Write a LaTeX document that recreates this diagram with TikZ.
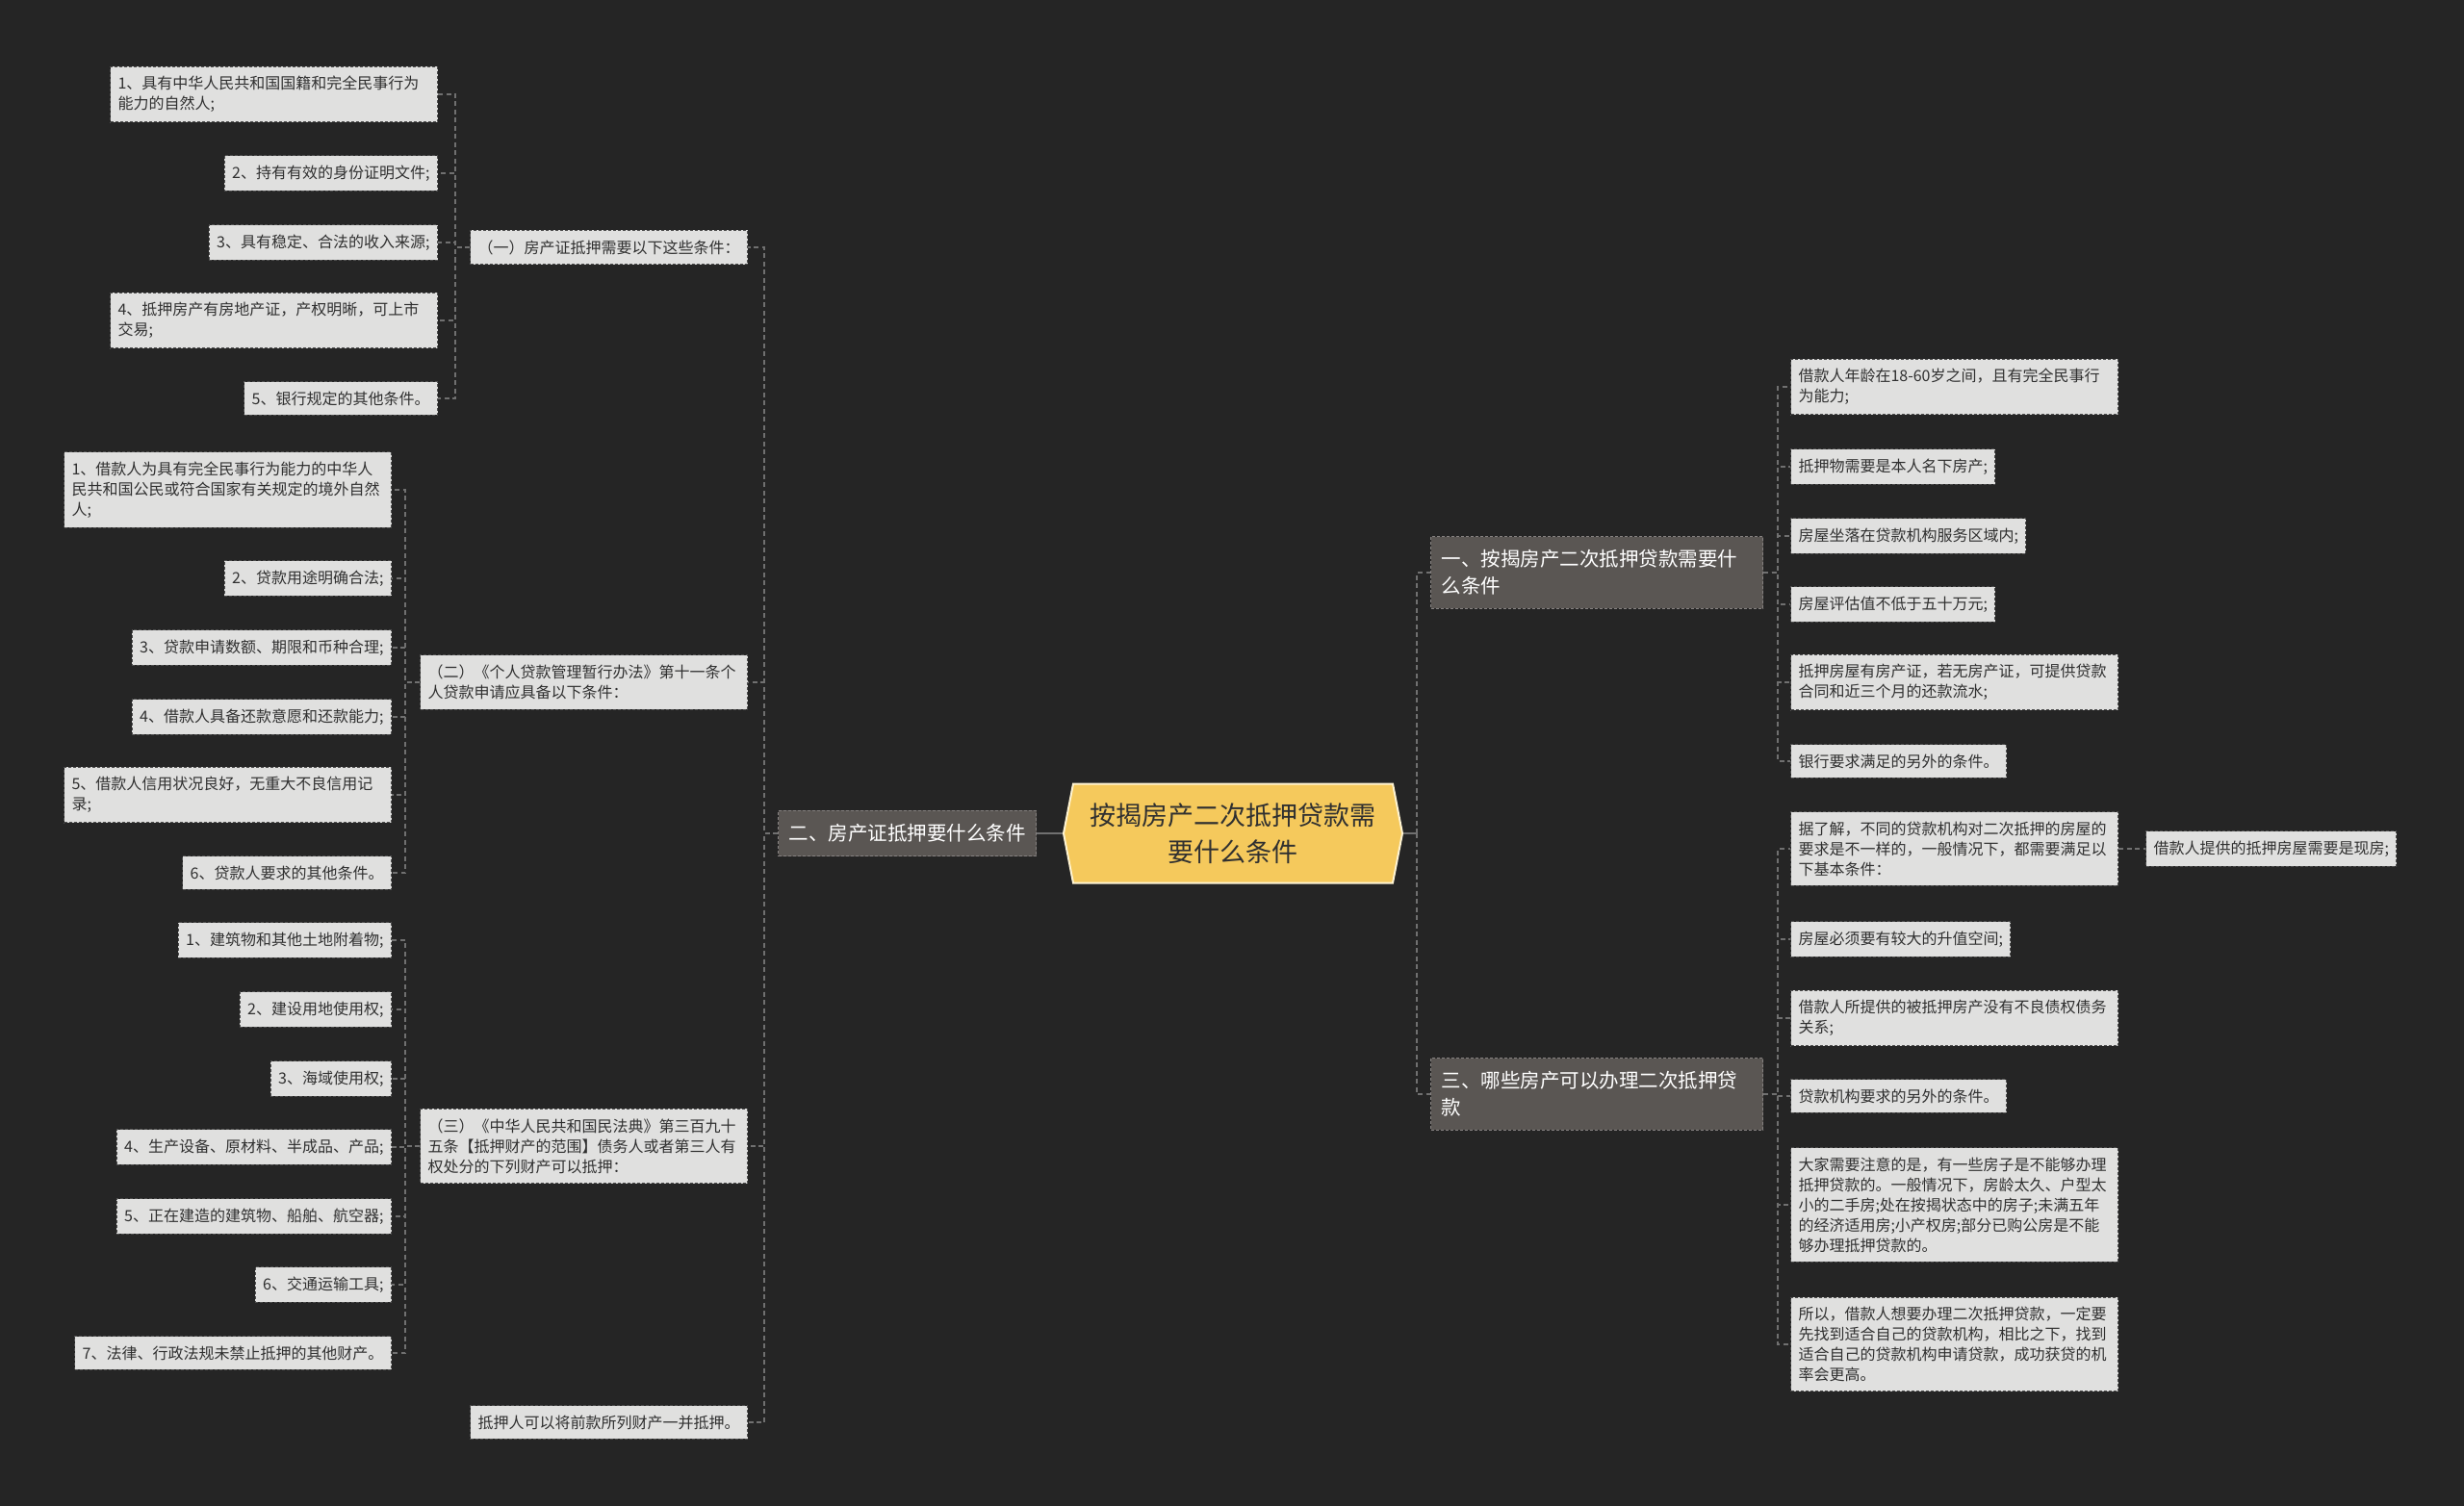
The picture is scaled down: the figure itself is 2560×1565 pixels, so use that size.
\documentclass[tikz,border=0pt]{standalone}
\usepackage{fontspec}
\setmainfont{Noto Sans CJK SC}
\usetikzlibrary{shapes.symbols}

\definecolor{bgcol}{HTML}{252525}
\definecolor{leaffill}{HTML}{E0E0DF}
\definecolor{leafline}{HTML}{4E4E4E}
\definecolor{leaftext}{HTML}{303030}
\definecolor{midfill}{HTML}{5A5653}
\definecolor{midline}{HTML}{858180}
\definecolor{rootfill}{HTML}{F5C95C}
\definecolor{rootline}{HTML}{FFF4D2}
\definecolor{linkcol}{HTML}{707070}

\tikzset{
  leaf/.style={draw=leafline, fill=leaffill, text=leaftext, line width=1pt,
    dash pattern=on 3pt off 2pt, inner xsep=8pt, inner ysep=10pt, align=left,
    font=\fontsize{16}{21}\selectfont},
  wide/.style={text width=324pt},
  branch/.style={draw=midline, fill=midfill, text=white, line width=1pt,
    dash pattern=on 3pt off 2pt, inner xsep=11pt, inner ysep=14pt, align=left,
    font=\fontsize{20.5}{28}\selectfont},
  link/.style={draw=linkcol, line width=1.6pt, dash pattern=on 5pt off 3.5pt},
  trunk/.style={draw=linkcol, line width=2.5pt},
}

\begin{document}
\begin{tikzpicture}[x=1pt,y=-1pt]
\fill[bgcol] (0,0) rectangle (2560,1565);
\useasboundingbox (0,0) rectangle (2560,1565);

% root
\node[shape=signal, signal to=east and west, signal pointer angle=158,
  minimum width=352pt, minimum height=103pt, fill=rootfill, draw=rootline,
  line width=2pt, align=center, text=leaftext,
  font=\fontsize{27}{38}\selectfont] (root) at (1281,866)
  {按揭房产二次抵押贷款需\\要什么条件};

% left branch
\node[branch, anchor=east] (L) at (1077,866) {二、房产证抵押要什么条件};

\node[leaf, anchor=east] (a) at (777,257) {（一）房产证抵押需要以下这些条件：};
\node[leaf, wide, anchor=east] (b) at (777,709) {（二）《个人贷款管理暂行办法》第十一条个\\人贷款申请应具备以下条件：};
\node[leaf, wide, anchor=east] (c) at (777,1191) {（三）《中华人民共和国民法典》第三百九十\\五条【抵押财产的范围】债务人或者第三人有\\权处分的下列财产可以抵押：};
\node[leaf, anchor=east] (d) at (777,1478) {抵押人可以将前款所列财产一并抵押。};

\node[leaf, wide, anchor=east] (a1) at (455,98) {1、具有中华人民共和国国籍和完全民事行为\\能力的自然人;};
\node[leaf, anchor=east] (a2) at (455,180) {2、持有有效的身份证明文件;};
\node[leaf, anchor=east] (a3) at (455,252) {3、具有稳定、合法的收入来源;};
\node[leaf, wide, anchor=east] (a4) at (455,333) {4、抵押房产有房地产证，产权明晰，可上市\\交易;};
\node[leaf, anchor=east] (a5) at (455,414) {5、银行规定的其他条件。};

\node[leaf, wide, anchor=east] (b1) at (407,509) {1、借款人为具有完全民事行为能力的中华人\\民共和国公民或符合国家有关规定的境外自然\\人;};
\node[leaf, anchor=east] (b2) at (407,601) {2、贷款用途明确合法;};
\node[leaf, anchor=east] (b3) at (407,673) {3、贷款申请数额、期限和币种合理;};
\node[leaf, anchor=east] (b4) at (407,745) {4、借款人具备还款意愿和还款能力;};
\node[leaf, wide, anchor=east] (b5) at (407,826) {5、借款人信用状况良好，无重大不良信用记\\录;};
\node[leaf, anchor=east] (b6) at (407,907) {6、贷款人要求的其他条件。};

\node[leaf, anchor=east] (c1) at (407,977) {1、建筑物和其他土地附着物;};
\node[leaf, anchor=east] (c2) at (407,1049) {2、建设用地使用权;};
\node[leaf, anchor=east] (c3) at (407,1121) {3、海域使用权;};
\node[leaf, anchor=east] (c4) at (407,1192) {4、生产设备、原材料、半成品、产品;};
\node[leaf, anchor=east] (c5) at (407,1264) {5、正在建造的建筑物、船舶、航空器;};
\node[leaf, anchor=east] (c6) at (407,1335) {6、交通运输工具;};
\node[leaf, anchor=east] (c7) at (407,1406) {7、法律、行政法规未禁止抵押的其他财产。};

% right branches
\node[branch, text width=323pt, anchor=west] (p) at (1486,595) {一、按揭房产二次抵押贷款需要什\\么条件};
\node[branch, text width=323pt, anchor=west] (q) at (1486,1137) {三、哪些房产可以办理二次抵押贷\\款};

\node[leaf, wide, anchor=west] (p1) at (1860,402) {借款人年龄在18-60岁之间，且有完全民事行\\为能力;};
\node[leaf, anchor=west] (p2) at (1860,485) {抵押物需要是本人名下房产;};
\node[leaf, anchor=west] (p3) at (1860,557) {房屋坐落在贷款机构服务区域内;};
\node[leaf, anchor=west] (p4) at (1860,628) {房屋评估值不低于五十万元;};
\node[leaf, wide, anchor=west] (p5) at (1860,709) {抵押房屋有房产证，若无房产证，可提供贷款\\合同和近三个月的还款流水;};
\node[leaf, anchor=west] (p6) at (1860,791) {银行要求满足的另外的条件。};

\node[leaf, wide, anchor=west] (q1) at (1860,882) {据了解，不同的贷款机构对二次抵押的房屋的\\要求是不一样的，一般情况下，都需要满足以\\下基本条件：};
\node[leaf, anchor=west] (q11) at (2229,882) {借款人提供的抵押房屋需要是现房;};
\node[leaf, anchor=west] (q2) at (1860,976) {房屋必须要有较大的升值空间;};
\node[leaf, wide, anchor=west] (q3) at (1860,1058) {借款人所提供的被抵押房产没有不良债权债务\\关系;};
\node[leaf, anchor=west] (q4) at (1860,1139) {贷款机构要求的另外的条件。};
\node[leaf, wide, anchor=west] (q5) at (1860,1252) {大家需要注意的是，有一些房子是不能够办理\\抵押贷款的。一般情况下，房龄太久、户型太\\小的二手房;处在按揭状态中的房子;未满五年\\的经济适用房;小产权房;部分已购公房是不能\\够办理抵押贷款的。};
\node[leaf, wide, anchor=west] (q6) at (1860,1397) {所以，借款人想要办理二次抵押贷款，一定要\\先找到适合自己的贷款机构，相比之下，找到\\适合自己的贷款机构申请贷款，成功获贷的机\\率会更高。};

% connectors
\draw[trunk] (root.west) -- (L.east);
\draw[trunk] (root.east) -- ++(14,0) coordinate (rs);
\foreach \n in {p,q} \draw[link] (rs) |- (\n.west);
\foreach \n in {a,b,c,d} \draw[link] (L.west) -- ++(-14,0) |- (\n.east);
\foreach \n in {a1,a2,a3,a4,a5} \draw[link] (a.west) -- ++(-15,0) |- (\n.east);
\foreach \n in {b1,b2,b3,b4,b5,b6} \draw[link] (b.west) -- ++(-15,0) |- (\n.east);
\foreach \n in {c1,c2,c3,c4,c5,c6,c7} \draw[link] (c.west) -- ++(-15,0) |- (\n.east);
\foreach \n in {p1,p2,p3,p4,p5,p6} \draw[link] (p.east) -- ++(15,0) |- (\n.west);
\foreach \n in {q1,q2,q3,q4,q5,q6} \draw[link] (q.east) -- ++(15,0) |- (\n.west);
\draw[link] (q1.east) -- (q11.west);
\end{tikzpicture}
\end{document}
